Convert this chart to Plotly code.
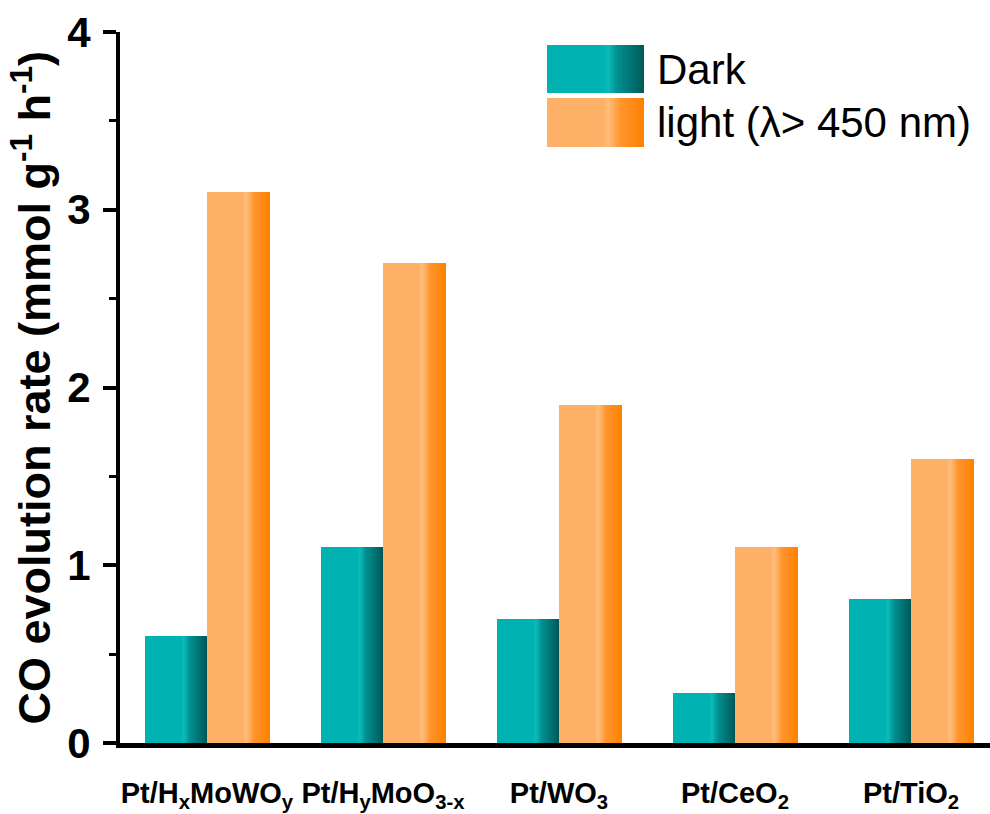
import plotly.graph_objects as go

# --- data -------------------------------------------------------------
catalysts = ["Pt/H<sub>x</sub>MoWO<sub>y</sub>", "Pt/H<sub>y</sub>MoO<sub>3-x</sub>",
             "Pt/WO<sub>3</sub>", "Pt/CeO<sub>2</sub>", "Pt/TiO<sub>2</sub>"]
dark_rate = [0.60, 1.10, 0.70, 0.28, 0.81]
light_rate = [3.10, 2.70, 1.90, 1.10, 1.60]
series_names = ["Dark", "light (λ> 450 nm)"]
y_ticks = [0, 1, 2, 3, 4]

# --- styling ----------------------------------------------------------
FONT = "Liberation Sans, Arial, sans-serif"
W, H = 990, 814
L, R, T, B = 120, 0, 32, 71
BAR_W = 0.353          # width of one bar in category units

# colour stops (position across bar width, rgb)
TEAL_STOPS = [(0.0, (0, 178, 177)), (0.58, (0, 178, 177)), (0.63, (12, 188, 186)),
              (0.72, (2, 145, 145)), (1.0, (0, 88, 88))]
ORANGE_STOPS = [(0.0, (253, 177, 103)), (0.58, (253, 177, 103)), (0.63, (255, 190, 124)),
                (0.75, (255, 150, 48)), (1.0, (255, 128, 0))]


def color_at(stops, t):
    for (t0, c0), (t1, c1) in zip(stops[:-1], stops[1:]):
        if t0 <= t <= t1:
            f = 0 if t1 == t0 else (t - t0) / (t1 - t0)
            c = [round(a + (b - a) * f) for a, b in zip(c0, c1)]
            return "rgb({},{},{})".format(*c)
    c = stops[-1][1]
    return "rgb({},{},{})".format(*c)


# slice start positions across a bar (flat part + shaded edge)
N_SLICES = 36
slice_starts = [0.0] + [0.56 + 0.44 * k / N_SLICES for k in range(N_SLICES)]

xs = list(range(len(catalysts)))
fig = go.Figure()


def add_shaded_bars(values, left_offset, stops):
    # each slice spans from its start to the bar's right edge; later slices cover earlier ones
    for t0 in slice_starts:
        tc = t0 + 0.22 / N_SLICES if t0 > 0 else 0
        fig.add_trace(go.Bar(
            x=xs, y=values,
            width=BAR_W * (1 - t0),
            offset=left_offset + BAR_W * t0,
            marker=dict(color=color_at(stops, tc), line=dict(width=0)),
            showlegend=False, hoverinfo="skip",
        ))


add_shaded_bars(dark_rate, -BAR_W, TEAL_STOPS)
add_shaded_bars(light_rate, 0.0, ORANGE_STOPS)

# --- custom legend with shaded swatches -------------------------------
plot_w = W - L - R
plot_h = H - T - B


def px_x(px):
    return (px - L) / plot_w


def px_y(py):
    return (H - B - py) / plot_h


shapes = []
annotations = []
legend_rows = [(45, 93, TEAL_STOPS, series_names[0]), (98, 147, ORANGE_STOPS, series_names[1])]
box_x0, box_x1 = 547, 644
n_leg = 40
for y0, y1, stops, label in legend_rows:
    for k in range(n_leg):
        t0 = k / n_leg
        xa = box_x0 + (box_x1 - box_x0) * t0
        shapes.append(dict(type="rect", xref="paper", yref="paper",
                           x0=px_x(xa), x1=px_x(box_x1),
                           y0=px_y(y1), y1=px_y(y0),
                           fillcolor=color_at(stops, t0 + 0.5 / n_leg),
                           line=dict(width=0), layer="above"))
    annotations.append(dict(x=px_x(655), y=px_y((y0 + y1) / 2), xref="paper", yref="paper",
                            text=label, showarrow=False, xanchor="left", yanchor="middle",
                            font=dict(family=FONT, size=42, color="black")))

# y-axis title
annotations.append(dict(x=px_x(31), y=0.5, xref="paper", yref="paper",
                        text="CO evolution rate (mmol g<sup>-1</sup> h<sup>-1</sup>)",
                        textangle=-90, showarrow=False, xanchor="center", yanchor="middle",
                        font=dict(family=FONT, size=45, color="black", weight="bold")))

fig.update_layout(
    width=W, height=H,
    margin=dict(l=L, r=R, t=T, b=B),
    paper_bgcolor="white", plot_bgcolor="white",
    barmode="overlay", bargap=0,
    shapes=shapes, annotations=annotations,
    showlegend=False,
)
fig.update_xaxes(
    range=[-0.494, 4.449], tickmode="array", tickvals=xs, ticktext=catalysts,
    showgrid=False, zeroline=False, showline=True, linecolor="black", linewidth=5,
    ticks="", ticklabelstandoff=20,
    tickfont=dict(family=FONT, size=29, color="black", weight="bold"),
)
fig.update_yaxes(
    range=[0, 4], tickmode="array", tickvals=y_ticks,
    showgrid=False, zeroline=False, showline=True, linecolor="black", linewidth=4,
    ticks="outside", ticklen=13, tickwidth=4, tickcolor="black",
    minor=dict(tickmode="array", tickvals=[0.5, 1.5, 2.5, 3.5], ticks="outside",
               ticklen=7, tickwidth=3, tickcolor="black"),
    tickfont=dict(family=FONT, size=42, color="black", weight="bold"),
    ticklabelstandoff=4,
)

fig.write_html("out.html")
